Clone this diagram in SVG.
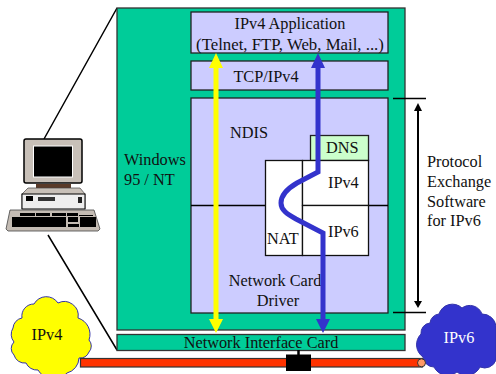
<svg xmlns="http://www.w3.org/2000/svg" width="496" height="374" viewBox="0 0 496 374">
<style>
text{font-family:"Liberation Serif","Times New Roman",serif;font-size:16.3px;fill:#111}
.m{text-anchor:middle}
.g{fill:#00cc99;stroke:#333;stroke-width:1.3}
.l{fill:#ccccff;stroke:#222;stroke-width:1.3}
.w{fill:#fff;stroke:#111;stroke-width:1.3}
.k{stroke:#000;stroke-width:1.5;fill:none}
</style>
<g id="zoom-lines"><path class="k" d="M117,8L44,139M117,350L48,235"/></g>
<g id="windows"><rect class="g" x="117" y="8" width="288" height="322"/><text x="124" y="165">Windows</text><text x="124" y="185">95 / NT</text></g>
<g id="nic"><rect class="g" x="117" y="334.500" width="288" height="16"/><text class="m" x="261" y="348">Network Interface Card</text></g>
<g id="app"><rect class="l" x="191" y="12" width="197" height="41"/><text class="m" x="290" y="29">IPv4 Application</text><text class="m" x="290" y="49.500" style="font-size:16.8px">(Telnet, FTP, Web, Mail, ...)</text></g>
<g id="tcp"><rect class="l" x="191" y="61" width="197" height="29"/><text class="m" x="266" y="82">TCP/IPv4</text></g>
<g id="ndis"><rect class="l" x="191" y="98" width="197" height="215"/><path class="k" d="M191,205.500H388"/><text x="230" y="138">NDIS</text><text class="m" x="275" y="286">Network Card</text><text class="m" x="278" y="306">Driver</text></g>
<g id="dns"><rect x="310.500" y="135.500" width="58" height="25" fill="#ccffcc" stroke="#222" stroke-width="1.3"/><text x="326" y="153">DNS</text></g>
<g id="nat"><rect class="w" x="265.500" y="160.500" width="37" height="95"/><text x="267" y="244">NAT</text></g>
<g id="ipv4-box"><rect class="w" x="302.500" y="160.500" width="66" height="45"/><text x="328" y="188">IPv4</text></g>
<g id="ipv6-box"><rect class="w" x="302.500" y="205.500" width="66" height="50"/><text x="328" y="237">IPv6</text></g>
<g id="connectors">
<path d="M216,66V321" stroke="#ffff00" stroke-width="5" fill="none"/>
<path d="M216,53L209,68H223ZM216,333L209,319H223Z" fill="#ffff00"/>
<path d="M318,66V172L297,183C285,190 281,197 281,203C281,210 287,214 296,219L323,233V321" stroke="#3333cc" stroke-width="5" fill="none"/>
<path d="M318,53L311,68H325ZM323,333L316,319H330Z" fill="#3333cc"/>
<path d="M393,98.500H426M393,312.500H426" stroke="#000" stroke-width="1.5"/>
<path d="M418,108V303" stroke="#000" stroke-width="2"/>
<path d="M418,103L414,111H422ZM418,308L414,301H422Z" fill="#000"/>
</g>
<g id="protocol-label"><text x="427" y="167">Protocol</text><text x="427" y="187">Exchange</text><text x="427" y="207">Software</text><text x="427" y="226">for IPv6</text></g>
<g id="computer">
<rect x="24" y="139" width="58" height="44" rx="2" fill="#c8c0b8" stroke="#000" stroke-width="1.5"/>
<rect x="33.500" y="146" width="39" height="31" fill="#000" stroke="#fff" stroke-width="1"/>
<rect x="36" y="184" width="35" height="7" fill="#5a3a28"/>
<path d="M28,188H80L85,194V209H22V194Z" fill="#c8c0b8" stroke="#444" stroke-width="0.7"/>
<rect x="22" y="194" width="63" height="15" fill="#eee" stroke="#000" stroke-width="1"/>
<rect x="26" y="196" width="7" height="5" fill="#000"/>
<rect x="38" y="197" width="17" height="4" fill="#333"/>
<rect x="78" y="197" width="4" height="6" fill="#222"/>
<rect x="22" y="209" width="63" height="5" fill="#777"/>
<path d="M10,210H94L100,229L98,231H8L6,229Z" fill="#c4bcb4" stroke="#444" stroke-width="0.8"/>
<path d="M20,213H35V216H20ZM36,213H50V216H36ZM52,213H66V216H52ZM67,213H78V216H67ZM79,215H93V216H79ZM12,217H66V227H12ZM68,217H78V222H68ZM68,224H79V227H68ZM80,217H96V227H80Z" fill="#000"/>
</g>
<g id="cloud-ipv4"><path d="M34,304A14,14 0 0 1 58,303A14,14 0 0 1 78,318A17,17 0 0 1 89,340A9,9 0 0 1 89,352A10,10 0 0 1 79,358A16,16 0 0 1 67,373A18,18 0 0 1 38,370A12,12 0 0 1 26,363A11,11 0 0 1 14,355A9,9 0 0 1 14,342A12,12 0 0 1 13,328A11,11 0 0 1 22,318A12,12 0 0 1 34,304Z" fill="#ffff00" stroke="#3333aa" stroke-width="1"/><text class="m" x="47" y="340">IPv4</text></g>
<g id="cloud-ipv6"><path d="M439,314A14,14 0 0 1 462,308A13,13 0 0 1 482,314A14,14 0 0 1 496,326V360A12,12 0 0 1 480,367A15,15 0 0 1 457,372A15,15 0 0 1 434,367A11,11 0 0 1 423,357A15,15 0 0 1 421,334A10,10 0 0 1 430,323A10,10 0 0 1 439,314Z" fill="#3333cc" stroke="#3333aa" stroke-width="1"/><text class="m" x="459" y="343" style="fill:#fff">IPv6</text></g>
<g id="cable"><rect x="80.500" y="358.500" width="342" height="8.500" fill="#ff3300" stroke="#333" stroke-width="1.2"/><circle cx="421.500" cy="362.800" r="4" fill="#ff9966" stroke="#333"/></g>
<g id="transceiver"><path d="M298.500,350V355" stroke="#000" stroke-width="2.500"/><rect x="286" y="354.500" width="25" height="16.500" fill="#000"/></g>
</svg>
